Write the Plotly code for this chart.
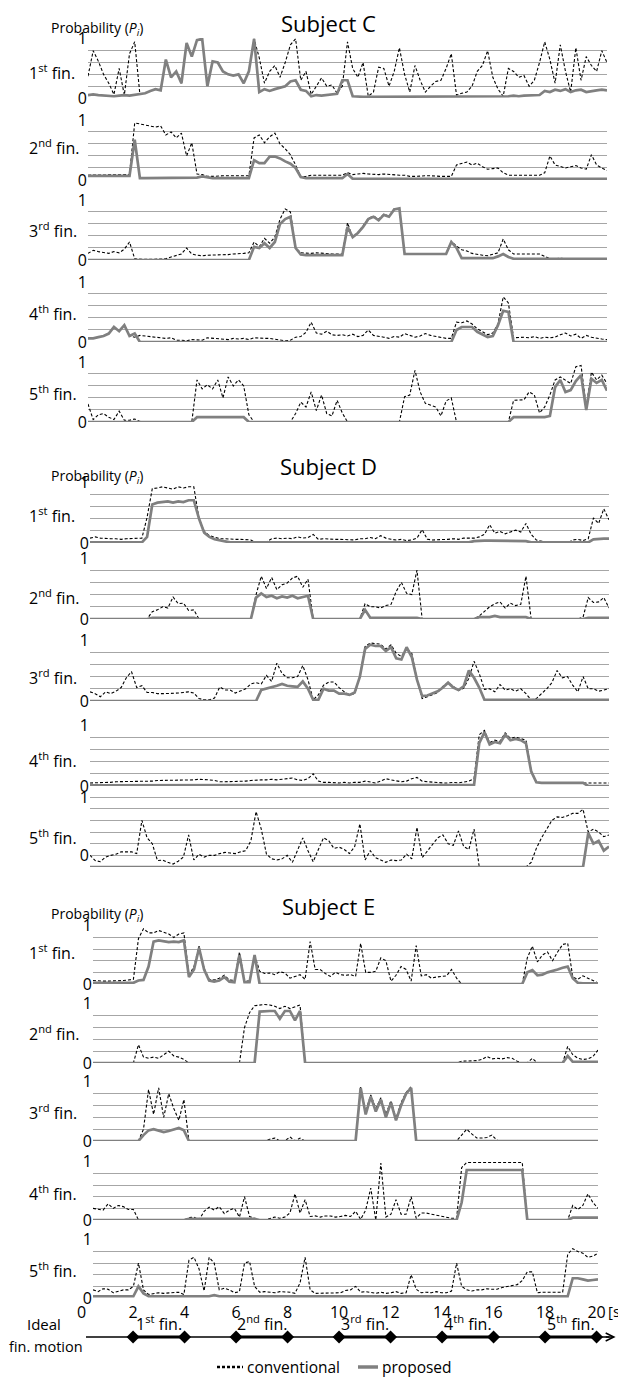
import plotly.graph_objects as go

# ---------------- data (probabilities in %, sampled every 0.2 s) ----------------
T = [round(0.2 * i, 1) for i in range(101)]

C1_conv = [37, 80, 62, 40, 25, 6, 50, 5, 75, 95,
           6, 8, 12, 15, 13, 65, 35, 45, 25, 93,
           70, 98, 100, 20, 62, 60, 45, 40, 38, 40,
           25, 45, 100, 68, 25, 45, 55, 35, 60, 90,
           100, 30, 45, 6, 20, 34, 20, 22, 8, 20,
           95, 50, 35, 60, 3, 10, 52, 50, 20, 45,
           85, 40, 10, 55, 30, 10, 20, 28, 30, 50,
           75, 5, 8, 10, 20, 45, 55, 80, 35, 15,
           3, 50, 45, 35, 38, 20, 30, 60, 95, 65,
           25, 90, 45, 10, 85, 30, 70, 55, 45, 80,
           60]
C1_prop = [5, 6, 5, 4, 3, 3, 4, 5, 4, 5,
           6, 8, 12, 15, 13, 65, 35, 45, 25, 93,
           70, 98, 100, 20, 62, 60, 45, 40, 38, 40,
           25, 45, 100, 10, 15, 12, 15, 18, 20, 28,
           30, 14, 12, 3, 5, 4, 5, 5, 7, 30,
           30, 3, 2, 2, 2, 2, 2, 2, 2, 2,
           2, 2, 2, 2, 2, 2, 2, 2, 2, 2,
           2, 2, 2, 2, 2, 2, 2, 2, 2, 2,
           2, 3, 4, 3, 4, 4, 5, 5, 12, 10,
           14, 12, 15, 10, 13, 14, 10, 12, 13, 14,
           13]
C2_conv = [8, 8, 8, 8, 8, 8, 9, 8, 9, 95,
           93, 92, 90, 88, 90, 75, 80, 70, 78, 40,
           62, 10, 9, 6, 6, 7, 7, 7, 7, 7,
           7, 7, 70, 75, 62, 72, 78, 60, 52, 42,
           25, 5, 6, 8, 8, 8, 8, 8, 8, 8,
           12, 9, 10, 11, 10, 9, 9, 10, 9, 9,
           8, 8, 6, 6, 7, 7, 7, 6, 6, 6,
           6, 25, 28, 30, 25, 28, 22, 18, 19, 20,
           12, 8, 8, 8, 8, 8, 8, 8, 12, 40,
           25, 22, 20, 22, 24, 20, 18, 42, 25, 20,
           16]
C2_prop = [7, 7, 7, 7, 7, 7, 7, 7, 7, 67,
           3, 3, 3, 3, 3, 3, 3, 3, 3, 3,
           3, 4, 6, 4, 3, 3, 3, 3, 3, 3,
           3, 3, 33, 28, 28, 39, 39, 36, 31, 27,
           20, 5, 3, 3, 3, 3, 3, 3, 3, 3,
           10, 2, 2, 2, 2, 2, 2, 2, 2, 2,
           2, 2, 2, 2, 2, 2, 2, 2, 2, 2,
           2, 2, 2, 2, 2, 2, 2, 2, 2, 2,
           2, 2, 2, 2, 2, 2, 2, 2, 2, 2,
           2, 2, 2, 2, 2, 2, 2, 2, 2, 2,
           2]
C3_conv = [11, 16, 14, 12, 11, 14, 12, 18, 30, 2,
           1, 1, 1, 1, 2, 2, 5, 8, 10, 20,
           10, 8, 7, 8, 8, 9, 8, 9, 10, 10,
           11, 12, 30, 22, 36, 28, 38, 68, 85, 80,
           20, 12, 11, 11, 12, 11, 11, 10, 10, 10,
           62, 37, 45, 56, 69, 73, 68, 76, 73, 85,
           85, 11, 10, 10, 10, 10, 10, 10, 10, 10,
           31, 23, 17, 15, 11, 9, 8, 7, 9, 12,
           35, 17, 10, 10, 10, 10, 10, 10, 6, 2,
           2, 3, 2, 2, 3, 2, 2, 3, 2, 2,
           2]
C3_prop = [0, 0, 0, 0, 0, 0, 0, 0, 0, 0,
           0, 0, 0, 0, 0, 0, 0, 0, 0, 0,
           0, 0, 0, 0, 0, 0, 0, 0, 0, 0,
           0, 0, 22, 20, 28, 20, 30, 60, 68, 72,
           20, 9, 8, 8, 8, 8, 8, 8, 8, 8,
           55, 38, 45, 55, 68, 72, 66, 75, 72, 84,
           86, 10, 10, 10, 10, 10, 10, 10, 10, 10,
           30, 20, 3, 3, 3, 3, 3, 3, 3, 6,
           10, 5, 2, 2, 2, 2, 2, 2, 2, 2,
           2, 2, 2, 2, 2, 2, 2, 2, 2, 2,
           2]
C4_conv = [6, 6, 8, 10, 14, 25, 18, 28, 10, 8,
           11, 10, 9, 8, 7, 6, 7, 3, 3, 2,
           4, 3, 3, 7, 6, 5, 5, 4, 6, 5,
           6, 4, 7, 6, 6, 6, 5, 4, 2, 3,
           8, 9, 16, 33, 15, 13, 18, 12, 11, 12,
           10, 13, 9, 11, 20, 11, 10, 8, 6, 9,
           8, 14, 11, 8, 10, 14, 11, 9, 7, 6,
           6, 33, 32, 35, 30, 22, 17, 12, 15, 30,
           75, 65, 7, 8, 8, 7, 9, 6, 8, 7,
           8, 12, 15, 10, 13, 6, 11, 8, 6, 5,
           4]
C4_prop = [6, 6, 8, 10, 14, 25, 18, 28, 10, 14,
           0, 0, 0, 0, 0, 0, 0, 0, 0, 0,
           0, 0, 0, 0, 0, 0, 0, 0, 0, 0,
           0, 0, 0, 0, 0, 0, 0, 0, 0, 0,
           0, 0, 0, 0, 0, 0, 0, 0, 0, 0,
           0, 0, 0, 0, 0, 0, 0, 0, 0, 0,
           0, 0, 0, 0, 0, 0, 0, 0, 0, 0,
           0, 20, 25, 25, 25, 17, 12, 8, 10, 28,
           52, 50, 0, 0, 0, 0, 0, 0, 0, 0,
           0, 0, 0, 0, 0, 0, 0, 0, 0, 0,
           0]
C5_conv = [30, 4, 12, 14, 8, 4, 18, 3, 3, 5,
           1, 0, 0, 0, 0, 0, 0, 0, 0, 0,
           0, 70, 55, 62, 55, 70, 40, 75, 60, 70,
           60, 12, 0, 0, 0, 0, 0, 0, 0, 0,
           14, 33, 25, 50, 19, 45, 14, 10, 36, 15,
           0, 0, 0, 0, 0, 0, 0, 0, 0, 0,
           0, 42, 45, 86, 50, 31, 28, 25, 10, 35,
           40, 0, 0, 0, 0, 0, 0, 0, 0, 0,
           0, 0, 36, 36, 37, 50, 45, 15, 25, 45,
           70, 75, 69, 64, 92, 94, 25, 83, 70, 78,
           64]
C5_prop = [0, 0, 0, 0, 0, 0, 0, 0, 0, 0,
           0, 0, 0, 0, 0, 0, 0, 0, 0, 0,
           0, 8, 8, 8, 8, 8, 8, 8, 8, 8,
           8, 0, 0, 0, 0, 0, 0, 0, 0, 0,
           0, 0, 0, 0, 0, 0, 0, 0, 0, 0,
           0, 0, 0, 0, 0, 0, 0, 0, 0, 0,
           0, 0, 0, 0, 0, 0, 0, 0, 0, 0,
           0, 0, 0, 0, 0, 0, 0, 0, 0, 0,
           0, 0, 8, 8, 8, 8, 8, 8, 8, 10,
           58, 70, 50, 53, 68, 78, 20, 72, 65, 70,
           52]

D1_conv = [8, 10, 8, 7, 7, 7, 6, 7, 7, 7,
           8, 42, 89, 90, 92, 90, 88, 92, 90, 92,
           92, 40, 19, 12, 10, 7, 7, 6, 6, 6,
           6, 5, 0, 1, 2, 7, 8, 7, 8, 7,
           10, 8, 9, 14, 6, 7, 6, 6, 6, 6,
           6, 5, 7, 7, 9, 7, 12, 8, 6, 5,
           6, 4, 5, 8, 22, 6, 5, 5, 6, 6,
           7, 6, 8, 8, 8, 10, 14, 30, 16, 19,
           15, 18, 21, 18, 32, 14, 5, 3, 2, 0,
           0, 0, 0, 5, 6, 4, 7, 41, 32, 56,
           38]
D1_prop = [1, 1, 1, 1, 1, 1, 1, 1, 1, 1,
           1, 10, 63, 66, 67, 68, 66, 68, 67, 70,
           70, 40, 17, 10, 6, 4, 2, 1, 1, 1,
           1, 1, 1, 1, 1, 1, 1, 1, 1, 1,
           1, 1, 1, 1, 1, 1, 1, 1, 1, 1,
           1, 1, 1, 1, 1, 1, 1, 1, 1, 1,
           1, 1, 1, 1, 1, 1, 1, 1, 1, 1,
           1, 1, 1, 1, 3, 4, 4, 4, 4, 4,
           4, 4, 4, 4, 3, 1, 1, 1, 1, 1,
           1, 1, 1, 1, 1, 1, 1, 6, 7, 7,
           7]
D2_conv = [0, 0, 0, 0, 0, 0, 0, 0, 0, 0,
           0, 0, 12, 15, 20, 18, 36, 25, 26, 14,
           15, 0, 0, 0, 0, 0, 0, 0, 0, 0,
           0, 0, 40, 70, 50, 68, 48, 56, 59, 67,
           70, 52, 65, 0, 0, 0, 0, 0, 0, 0,
           0, 0, 0, 25, 20, 20, 18, 22, 24, 45,
           60, 42, 40, 80, 0, 0, 0, 0, 0, 0,
           0, 0, 0, 0, 0, 5, 12, 20, 25, 28,
           18, 26, 22, 24, 70, 0, 0, 0, 0, 0,
           0, 0, 0, 0, 0, 3, 35, 27, 28, 35,
           18]
D2_prop = [0, 0, 0, 0, 0, 0, 0, 0, 0, 0,
           0, 0, 2, 2, 2, 2, 2, 2, 2, 2,
           2, 0, 0, 0, 0, 0, 0, 0, 0, 0,
           0, 0, 35, 42, 36, 38, 34, 37, 35, 38,
           34, 36, 38, 0, 0, 0, 0, 0, 0, 0,
           0, 0, 0, 15, 2, 2, 2, 2, 2, 2,
           2, 2, 2, 2, 0, 0, 0, 0, 0, 0,
           0, 0, 0, 0, 0, 3, 3, 3, 5, 3,
           3, 3, 3, 3, 3, 0, 0, 0, 0, 0,
           0, 0, 0, 0, 0, 0, 2, 2, 2, 2,
           2]
D3_conv = [15, 12, 7, 15, 12, 16, 22, 38, 48, 22,
           25, 14, 14, 12, 12, 12, 12, 13, 14, 15,
           13, 4, 2, 2, 5, 23, 18, 18, 13, 16,
           20, 28, 30, 28, 42, 32, 62, 45, 38, 38,
           40, 58, 35, 2, 10, 26, 31, 31, 22, 15,
           10, 12, 40, 89, 95, 94, 93, 85, 92, 78,
           73, 86, 78, 35, 4, 7, 10, 14, 24, 30,
           24, 17, 21, 37, 65, 45, 19, 20, 15, 27,
           18, 20, 16, 20, 12, 2, 4, 12, 20, 30,
           50, 38, 40, 26, 15, 40, 20, 20, 16, 18,
           20]
D3_prop = [0, 0, 0, 0, 0, 0, 0, 0, 0, 0,
           0, 0, 0, 0, 0, 0, 0, 0, 0, 0,
           0, 0, 0, 0, 0, 0, 0, 0, 0, 0,
           0, 0, 0, 18, 20, 22, 25, 28, 25, 24,
           23, 32, 20, 2, 2, 20, 17, 17, 12, 12,
           10, 14, 40, 85, 92, 90, 90, 82, 88, 70,
           68, 88, 72, 35, 8, 9, 12, 16, 22, 30,
           22, 18, 24, 50, 38, 22, 2, 2, 2, 2,
           2, 2, 2, 2, 2, 2, 2, 2, 2, 2,
           2, 2, 2, 2, 2, 2, 2, 2, 2, 2,
           2]
D4_conv = [5, 5, 6, 6, 6, 7, 7, 7, 7, 8,
           8, 8, 8, 9, 9, 9, 10, 9, 9, 10,
           10, 11, 11, 10, 9, 7, 7, 7, 7, 8,
           8, 9, 10, 10, 10, 11, 10, 11, 12, 13,
           10, 9, 12, 20, 8, 6, 6, 5, 5, 6,
           5, 6, 6, 8, 6, 5, 8, 12, 10, 8,
           7, 8, 12, 14, 8, 7, 6, 6, 5, 5,
           6, 5, 7, 8, 12, 84, 91, 71, 75, 73,
           87, 78, 80, 78, 75, 25, 7, 5, 5, 5,
           5, 5, 5, 5, 5, 5, 5, 5, 5, 5,
           5]
D4_prop = [1, 1, 1, 1, 1, 1, 1, 1, 1, 1,
           1, 1, 1, 1, 1, 1, 1, 1, 1, 1,
           1, 1, 1, 1, 1, 1, 1, 1, 1, 1,
           1, 1, 1, 1, 1, 1, 1, 1, 1, 1,
           1, 1, 1, 1, 1, 1, 1, 1, 1, 1,
           1, 1, 1, 1, 1, 1, 1, 1, 1, 1,
           1, 1, 1, 1, 1, 1, 1, 1, 1, 1,
           1, 1, 1, 1, 2, 70, 88, 68, 72, 70,
           84, 75, 77, 75, 70, 24, 6, 5, 5, 5,
           5, 5, 5, 5, 5, 5, 0, 0, 0, 0,
           0]
D5_conv = [20, 11, 9, 17, 20, 22, 26, 26, 26, 23,
           80, 50, 40, 11, 12, 8, 5, 10, 17, 55,
           12, 22, 17, 20, 20, 23, 25, 24, 23, 26,
           28, 45, 95, 65, 22, 14, 12, 14, 20, 8,
           28, 50, 28, 9, 30, 50, 45, 32, 34, 30,
           23, 35, 74, 12, 28, 16, 12, 8, 12, 11,
           12, 22, 14, 68, 16, 28, 38, 50, 55, 40,
           37, 62, 35, 30, 65, 0, 0, 0, 0, 0,
           0, 0, 0, 0, 0, 8, 32, 50, 66, 80,
           86, 85, 88, 92, 92, 99, 60, 65, 60, 52,
           55]
D5_prop = [0, 0, 0, 0, 0, 0, 0, 0, 0, 0,
           0, 0, 0, 0, 0, 0, 0, 0, 0, 0,
           0, 0, 0, 0, 0, 0, 0, 0, 0, 0,
           0, 0, 0, 0, 0, 0, 0, 0, 0, 0,
           0, 0, 0, 0, 0, 0, 0, 0, 0, 0,
           0, 0, 0, 0, 0, 0, 0, 0, 0, 0,
           0, 0, 0, 0, 0, 0, 0, 0, 0, 0,
           0, 0, 0, 0, 0, 0, 0, 0, 0, 0,
           0, 0, 0, 0, 0, 0, 0, 0, 0, 0,
           0, 0, 0, 0, 0, 0, 58, 40, 45, 28,
           35]

E1_conv = [6, 5, 5, 5, 5, 6, 6, 7, 8, 78,
           95, 88, 88, 92, 89, 86, 80, 86, 88, 15,
           30, 65, 27, 8, 7, 10, 15, 7, 6, 55,
           5, 5, 50, 22, 18, 19, 16, 21, 19, 10,
           13, 16, 8, 73, 25, 25, 18, 13, 20, 16,
           15, 16, 13, 70, 20, 20, 22, 45, 40, 5,
           15, 30, 25, 5, 66, 14, 16, 10, 12, 13,
           14, 25, 10, 0, 0, 0, 0, 0, 0, 0,
           0, 0, 0, 0, 0, 0, 45, 65, 38, 50,
           55, 40, 55, 68, 70, 12, 8, 14, 10, 6,
           2]
E1_prop = [2, 2, 2, 2, 2, 2, 2, 2, 2, 6,
           7, 30, 73, 75, 74, 72, 73, 72, 75, 12,
           25, 62, 25, 6, 4, 6, 12, 4, 3, 50,
           3, 3, 50, 0, 0, 0, 0, 0, 0, 0,
           0, 0, 0, 0, 0, 0, 0, 0, 0, 0,
           0, 0, 0, 0, 0, 0, 0, 0, 0, 0,
           0, 0, 0, 0, 0, 0, 0, 0, 0, 0,
           0, 0, 0, 0, 0, 0, 0, 0, 0, 0,
           0, 0, 0, 0, 0, 0, 20, 24, 15, 16,
           20, 22, 25, 28, 30, 10, 2, 1, 1, 1,
           1]
E2_conv = [0, 0, 0, 0, 0, 0, 0, 0, 0, 31,
           10, 8, 10, 8, 14, 20, 12, 10, 6, 0,
           0, 0, 0, 0, 0, 0, 0, 0, 0, 0,
           60, 85, 97, 98, 99, 98, 96, 92, 96, 92,
           95, 98, 0, 0, 0, 0, 0, 0, 0, 0,
           0, 0, 0, 0, 0, 0, 0, 0, 0, 0,
           0, 0, 0, 0, 0, 0, 0, 0, 0, 0,
           0, 0, 0, 3, 3, 4, 4, 6, 11, 7,
           8, 7, 9, 8, 3, 0, 0, 8, 0, 0,
           0, 0, 0, 0, 28, 14, 8, 6, 7, 11,
           22]
E2_prop = [0, 0, 0, 0, 0, 0, 0, 0, 0, 0,
           0, 0, 0, 0, 0, 0, 0, 0, 0, 0,
           0, 0, 0, 0, 0, 0, 0, 0, 0, 0,
           0, 0, 0, 87, 88, 88, 88, 75, 88, 88,
           72, 88, 0, 0, 0, 0, 0, 0, 0, 0,
           0, 0, 0, 0, 0, 0, 0, 0, 0, 0,
           0, 0, 0, 0, 0, 0, 0, 0, 0, 0,
           0, 0, 0, 0, 0, 0, 0, 0, 0, 0,
           0, 0, 0, 0, 0, 0, 0, 0, 0, 0,
           0, 0, 0, 0, 12, 2, 2, 2, 2, 2,
           2]
E3_conv = [0, 0, 0, 0, 0, 0, 0, 0, 0, 0,
           20, 87, 45, 90, 40, 80, 55, 35, 70, 0,
           0, 0, 0, 0, 0, 0, 0, 0, 0, 0,
           0, 0, 0, 0, 0, 3, 5, 0, 0, 7,
           0, 5, 0, 0, 0, 0, 0, 0, 0, 0,
           0, 0, 0, 92, 50, 78, 55, 73, 45, 68,
           38, 65, 82, 92, 0, 0, 0, 0, 0, 0,
           0, 0, 0, 10, 20, 12, 5, 5, 6, 10,
           1, 0, 0, 0, 0, 0, 0, 0, 0, 0,
           0, 0, 0, 0, 0, 0, 0, 0, 0, 0,
           0]
E3_prop = [0, 0, 0, 0, 0, 0, 0, 0, 0, 0,
           10, 18, 20, 18, 15, 17, 20, 22, 18, 0,
           0, 0, 0, 0, 0, 0, 0, 0, 0, 0,
           0, 0, 0, 0, 0, 0, 0, 0, 0, 0,
           0, 0, 0, 0, 0, 0, 0, 0, 0, 0,
           0, 0, 0, 90, 45, 75, 50, 70, 40, 65,
           35, 60, 80, 90, 0, 0, 0, 0, 0, 0,
           0, 0, 0, 0, 0, 0, 0, 0, 0, 0,
           0, 0, 0, 0, 0, 0, 0, 0, 0, 0,
           0, 0, 0, 0, 0, 0, 0, 0, 0, 0,
           0]
E4_conv = [20, 19, 17, 28, 20, 25, 23, 18, 18, 0,
           0, 0, 0, 0, 0, 0, 0, 0, 0, 4,
           5, 0, 15, 22, 17, 23, 11, 17, 20, 5,
           40, 6, 3, 0, 0, 3, 5, 3, 5, 12,
           45, 12, 35, 6, 7, 5, 7, 7, 5, 6,
           8, 6, 15, 1, 17, 55, 0, 98, 5, 10,
           35, 10, 10, 40, 3, 12, 12, 10, 8, 7,
           5, 3, 3, 90, 99, 99, 100, 99, 99, 100,
           99, 99, 100, 100, 99, 99, 0, 0, 0, 0,
           0, 0, 0, 0, 0, 25, 18, 25, 45, 30,
           20]
E4_prop = [0, 0, 0, 0, 0, 0, 0, 0, 0, 0,
           0, 0, 0, 0, 0, 0, 0, 0, 0, 2,
           2, 2, 2, 2, 2, 2, 2, 2, 2, 2,
           2, 2, 2, 0, 0, 0, 0, 0, 0, 0,
           0, 0, 0, 0, 0, 0, 0, 0, 0, 0,
           0, 0, 0, 0, 0, 0, 0, 0, 0, 0,
           0, 0, 0, 0, 0, 0, 0, 0, 0, 0,
           0, 0, 0, 30, 86, 86, 86, 86, 86, 86,
           86, 86, 86, 86, 86, 86, 0, 0, 0, 0,
           0, 0, 0, 0, 0, 4, 4, 4, 4, 4,
           4]
E5_conv = [14, 11, 16, 15, 9, 11, 14, 14, 20, 60,
           14, 6, 8, 9, 8, 9, 9, 10, 6, 65,
           70, 50, 12, 70, 60, 14, 17, 14, 9, 11,
           60, 63, 20, 10, 11, 10, 9, 11, 11, 10,
           8, 26, 70, 14, 8, 8, 9, 8, 8, 9,
           13, 14, 20, 10, 11, 9, 8, 10, 8, 9,
           11, 8, 9, 40, 15, 9, 10, 9, 11, 9,
           9, 12, 60, 20, 14, 12, 14, 14, 16, 15,
           15, 18, 20, 21, 23, 30, 45, 45, 9, 10,
           10, 9, 9, 10, 75, 85, 80, 77, 70, 72,
           77]
E5_prop = [3, 3, 3, 3, 3, 3, 3, 3, 3, 20,
           8, 3, 3, 3, 3, 3, 3, 3, 3, 3,
           3, 3, 3, 3, 5, 3, 3, 3, 3, 3,
           3, 3, 3, 3, 3, 3, 3, 3, 3, 3,
           3, 3, 3, 3, 3, 3, 3, 3, 3, 3,
           3, 3, 3, 3, 3, 3, 3, 3, 3, 3,
           3, 3, 3, 3, 3, 3, 3, 3, 3, 3,
           3, 3, 3, 3, 3, 3, 3, 3, 3, 3,
           3, 3, 3, 3, 3, 3, 3, 3, 3, 3,
           3, 3, 3, 3, 3, 34, 34, 32, 30, 31,
           32]

SUBJECTS = ["Subject C", "Subject D", "Subject E"]
FINGERS = ["1<sup>st</sup> fin.", "2<sup>nd</sup> fin.", "3<sup>rd</sup> fin.",
           "4<sup>th</sup> fin.", "5<sup>th</sup> fin."]
CONV = [[C1_conv, C2_conv, C3_conv, C4_conv, C5_conv],
        [D1_conv, D2_conv, D3_conv, D4_conv, D5_conv],
        [E1_conv, E2_conv, E3_conv, E4_conv, E5_conv]]
PROP = [[C1_prop, C2_prop, C3_prop, C4_prop, C5_prop],
        [D1_prop, D2_prop, D3_prop, D4_prop, D5_prop],
        [E1_prop, E2_prop, E3_prop, E4_prop, E5_prop]]
IDEAL_START = [2, 6, 10, 14, 18]
IDEAL_END = [4, 8, 12, 16, 20]
X_TICKS = [0, 2, 4, 6, 8, 10, 12, 14, 16, 18, 20]
SERIES_NAMES = ["conventional", "proposed"]

for grp in CONV + PROP:
    for s in grp:
        assert len(s) == len(T), len(s)

# ---------------- geometry / style ----------------
# the figure sits at the page's default 8px body margin;
# every position below is written in page pixels.
W, H, OFF = 618, 1370, 8
def fx(px): return (px - OFF) / W
def fy(py): return 1 - (py - OFF) / H

FONT = "Open Sans"
GRID = "#a6a6a6"
CONV_LINE = dict(color="black", width=1.1, dash="3px,2px")
PROP_LINE = dict(color="#808080", width=2.7)

X_SPAN = [(88, 607), (90, 609), (93, 598)]
PANELS = [[(39, 98), (120, 180), (200, 260), (282, 342), (362, 422)],
          [(482, 543), (558, 619), (640, 701), (725, 786), (797, 867)],
          [(926, 984), (1004, 1063), (1082, 1141), (1162, 1220), (1240, 1298)]]
LABEL_Y = [[72, 147, 230, 313, 393], [515, 597, 677, 760, 837], [952, 1033, 1112, 1193, 1270]]
TITLE_Y = [23, 466, 906]
PROB_Y = [29, 476, 914]

fig = go.Figure()
layout = {}
ann = []
shapes = []

for si in range(3):
    xn = "x" if si == 0 else f"x{si+1}"
    xkey = "xaxis" if si == 0 else f"xaxis{si+1}"
    layout[xkey] = dict(domain=[fx(X_SPAN[si][0]), fx(X_SPAN[si][1])], range=[0, 20],
                        anchor=f"y{si*5+5}", visible=False, automargin=False)
    for fi in range(5):
        k = si * 5 + fi
        yn = "y" if k == 0 else f"y{k+1}"
        ykey = "yaxis" if k == 0 else f"yaxis{k+1}"
        top, bot = PANELS[si][fi]
        tall = (si == 1 and fi == 4)
        ymax = 1.2 if tall else 1.0
        if tall:
            major, minor = [0.2, 1.2], [0, 0.4, 0.6, 0.8, 1.0]
        else:
            major, minor = [0, 1.0], [0.2, 0.4, 0.6, 0.8]
        layout[ykey] = dict(domain=[fy(bot), fy(top - 1)], range=[0, ymax * 1.015],
                            anchor=xn, tickmode="array", tickvals=major, ticktext=["0", "1"],
                            showgrid=True, gridcolor=GRID, gridwidth=1,
                            minor=dict(tickmode="array", tickvals=minor, showgrid=True,
                                       gridcolor=GRID, gridwidth=1, ticks=""),
                            zeroline=False, showline=False, ticks="", automargin=False,
                            tickfont=dict(size=16, color="black"))
        fig.add_trace(go.Scatter(x=T, y=[v / 100 for v in CONV[si][fi]], xaxis=xn, yaxis=yn,
                                 mode="lines", line=CONV_LINE, name=SERIES_NAMES[0],
                                 showlegend=False, hoverinfo="skip"))
        fig.add_trace(go.Scatter(x=T, y=[v / 100 for v in PROP[si][fi]], xaxis=xn, yaxis=yn,
                                 mode="lines", line=PROP_LINE, name=SERIES_NAMES[1],
                                 showlegend=False, hoverinfo="skip"))
        ann.append(dict(text=FINGERS[fi], x=fx(27), y=fy(LABEL_Y[si][fi]), xref="paper",
                        yref="paper", xanchor="left", yanchor="middle", showarrow=False,
                        font=dict(size=16)))
    ann.append(dict(text=SUBJECTS[si], x=fx(328), y=fy(TITLE_Y[si]), xref="paper", yref="paper",
                    xanchor="center", yanchor="middle", showarrow=False, font=dict(size=22)))
    ann.append(dict(text="Probability (<i>P<sub>i</sub></i>)", x=fx(97), y=fy(PROB_Y[si]),
                    xref="paper", yref="paper", xanchor="center", yanchor="middle",
                    showarrow=False, font=dict(size=14)))

# ideal finger-motion axis (also carries the time tick labels)
layout["xaxis4"] = dict(domain=[fx(81.6), fx(615.6)], range=[0, 20.74], anchor="y16", side="top",
                        tickmode="array", tickvals=X_TICKS, ticktext=[str(v) for v in X_TICKS],
                        showgrid=False, zeroline=False, showline=False, ticks="",
                        automargin=False, tickfont=dict(size=16))
layout["yaxis16"] = dict(domain=[fy(1352), fy(1322)], range=[-1, 1], visible=False, anchor="x4",
                         automargin=False)

shapes.append(dict(type="line", xref="x4", yref="y16", x0=0.17, x1=20.5, y0=0, y1=0,
                   line=dict(color="black", width=1.6)))
seg_x, seg_y = [], []
for a, b in zip(IDEAL_START, IDEAL_END):
    seg_x += [a, b, None]
    seg_y += [0, 0, None]
fig.add_trace(go.Scatter(x=seg_x, y=seg_y, xaxis="x4", yaxis="y16", mode="lines",
                         line=dict(color="black", width=3.2), showlegend=False, hoverinfo="skip"))
dia = sorted(set(IDEAL_START + IDEAL_END))
fig.add_trace(go.Scatter(x=dia, y=[0] * len(dia), xaxis="x4", yaxis="y16", mode="markers",
                         marker=dict(symbol="diamond", size=10, color="black"),
                         showlegend=False, hoverinfo="skip", cliponaxis=False))
ann.append(dict(x=20.74, y=0, ax=20.3, ay=0, xref="x4", yref="y16", axref="x4", ayref="y16",
                showarrow=True, arrowhead=5, arrowsize=1, arrowwidth=1.6, arrowcolor="black",
                text=""))
for i, (a, b) in enumerate(zip(IDEAL_START, IDEAL_END)):
    ann.append(dict(text=FINGERS[i], x=(a + b) / 2, y=fy(1323), xref="x4", yref="paper",
                    xanchor="center", yanchor="middle", showarrow=False, font=dict(size=16)))
ann.append(dict(text="[s]", x=fx(606), y=fy(1311), xref="paper", yref="paper",
                xanchor="left", yanchor="middle", showarrow=False, font=dict(size=15)))
ann.append(dict(text="Ideal", x=fx(44), y=fy(1324), xref="paper", yref="paper",
                xanchor="center", yanchor="middle", showarrow=False, font=dict(size=15)))
ann.append(dict(text="fin. motion", x=fx(46), y=fy(1346), xref="paper", yref="paper",
                xanchor="center", yanchor="middle", showarrow=False, font=dict(size=14.5)))

# legend (drawn in place so it does not push the margins)
LEG_Y = 1367
shapes.append(dict(type="line", xref="paper", yref="paper", x0=fx(217), x1=fx(243),
                   y0=fy(LEG_Y), y1=fy(LEG_Y), line=dict(color="black", width=2.4, dash="3px,2px")))
ann.append(dict(text=SERIES_NAMES[0], x=fx(245), y=fy(LEG_Y), xref="paper", yref="paper",
                xanchor="left", yanchor="middle", showarrow=False, font=dict(size=15.5)))
shapes.append(dict(type="line", xref="paper", yref="paper", x0=fx(358), x1=fx(378),
                   y0=fy(LEG_Y), y1=fy(LEG_Y), line=dict(color="#808080", width=3.5)))
ann.append(dict(text=SERIES_NAMES[1], x=fx(380), y=fy(LEG_Y), xref="paper", yref="paper",
                xanchor="left", yanchor="middle", showarrow=False, font=dict(size=15.5)))

fig.update_layout(
    **layout,
    width=W, height=H, margin=dict(l=0, r=0, t=0, b=0, pad=0, autoexpand=False),
    paper_bgcolor="white", plot_bgcolor="rgba(0,0,0,0)",
    font=dict(family=FONT, color="black"),
    annotations=ann, shapes=shapes, showlegend=False,
    hovermode=False,
)

fig.write_html("out.html")
